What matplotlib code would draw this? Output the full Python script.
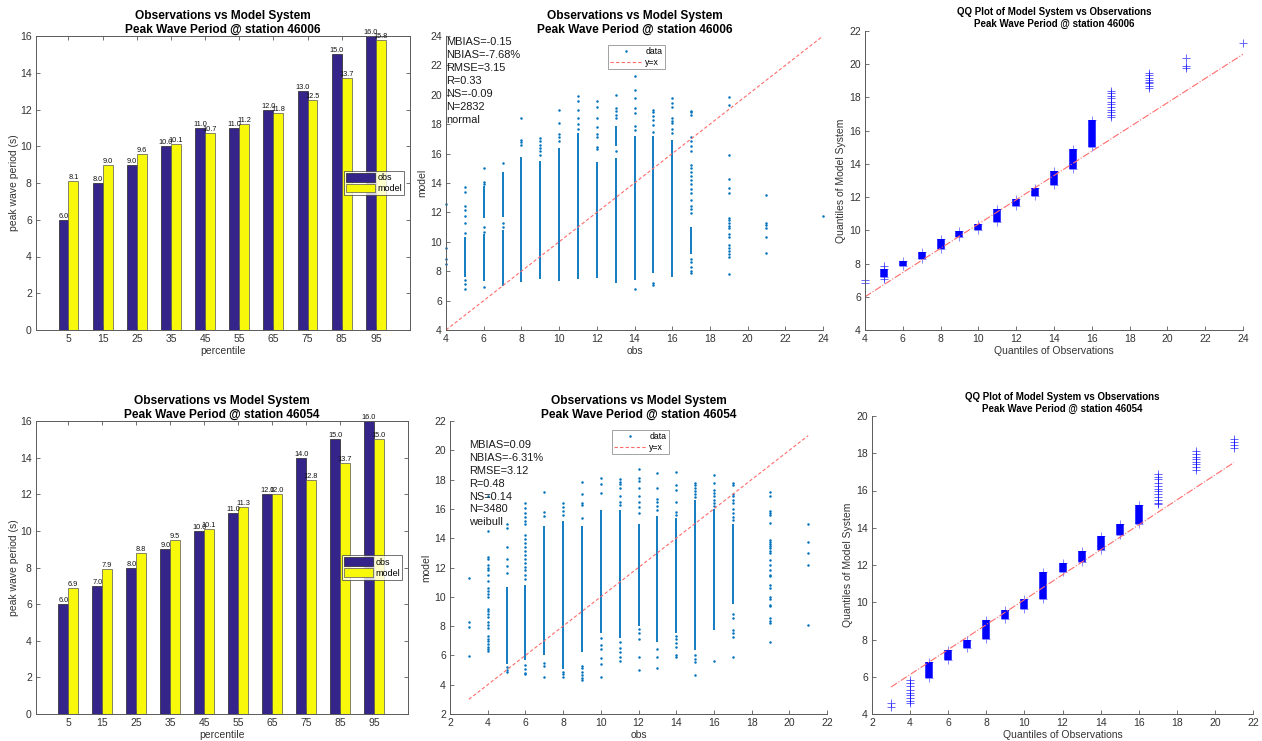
import matplotlib
matplotlib.use("Agg")
import matplotlib.pyplot as plt
import numpy as np
from matplotlib.lines import Line2D
from matplotlib.patches import Patch

plt.rcParams['font.family'] = ['Liberation Sans', 'DejaVu Sans']

W, H = 1262, 741

# ---------------- data ----------------
percentiles = [5, 15, 25, 35, 45, 55, 65, 75, 85, 95]

obs_46006 = [6.0, 8.0, 9.0, 10.0, 11.0, 11.0, 12.0, 13.0, 15.0, 16.0]
model_46006 = [8.1, 9.0, 9.6, 10.1, 10.7, 11.2, 11.8, 12.5, 13.7, 15.8]
obs_46054 = [6.0, 7.0, 8.0, 9.0, 10.0, 11.0, 12.0, 14.0, 15.0, 16.0]
model_46054 = [6.9, 7.9, 8.8, 9.5, 10.1, 11.3, 12.0, 12.8, 13.7, 15.0]

stats_46006 = ["MBIAS=-0.15", "NBIAS=-7.68%", "RMSE=3.15", "R=0.33", "NS=-0.09", "N=2832", "normal"]
stats_46054 = ["MBIAS=0.09", "NBIAS=-6.31%", "RMSE=3.12", "R=0.48", "NS=0.14", "N=3480", "weibull"]

# scatter: obs value -> isolated model values, and runs that look solid
sc_pts_46006 = {
    4: [12.55, 9.6, 8.85, 8.5],
    5: [13.7, 13.4, 12.45, 12.15, 11.75, 11.25, 10.6, 7.4, 7.1, 6.8],
    6: [15.0, 14.1, 13.9, 11.0, 10.7, 6.9],
    7: [15.35, 11.25, 11.0],
    8: [18.45, 16.95, 16.8, 16.6],
    9: [17.05, 16.85, 16.6, 16.4, 16.2, 15.9],
    10: [19.0, 18.1, 17.3, 17.1, 16.85],
    11: [19.9, 19.6, 19.0, 18.4, 18.0, 17.7],
    12: [19.6, 19.2, 18.45, 17.8, 17.3, 17.1, 16.45, 16.3],
    13: [20.0, 19.1, 18.9, 18.6, 18.4, 16.2],
    14: [21.3, 20.35, 19.75, 19.1, 18.75, 17.9, 17.6, 6.8],
    15: [19.0, 18.8, 18.55, 18.3, 17.95, 17.5, 7.2, 7.05],
    16: [19.8, 19.45, 19.15, 18.45, 18.25, 18.05, 17.7, 17.4],
    17: [18.9, 18.8, 18.65, 17.1, 16.85, 16.5, 16.2, 15.25, 15.0, 14.75, 14.5, 14.2, 13.9,
         13.6, 13.3, 12.85, 12.45, 12.2, 11.95, 8.85, 8.6, 8.3, 8.0, 7.85],
    19: [19.85, 19.3, 15.9, 14.3, 13.65, 13.35, 11.6, 11.45, 11.3, 11.1, 10.95, 10.55, 10.35,
         9.8, 9.6, 9.4, 9.2, 8.95, 7.8],
    21: [13.15, 11.3, 11.15, 10.95, 10.3, 9.25],
    24: [11.75],
}
sc_runs_46006 = {
    5: [(7.6, 10.3)],
    6: [(11.6, 13.8), (7.3, 10.5)],
    7: [(11.7, 14.75), (7.0, 10.8)],
    8: [(7.25, 15.8)],
    9: [(7.45, 15.5)],
    10: [(7.35, 16.4)],
    11: [(7.5, 17.4)],
    12: [(7.55, 15.45)],
    13: [(7.2, 15.7), (16.5, 17.9)],
    14: [(7.4, 17.2)],
    15: [(7.85, 17.2)],
    16: [(7.6, 16.9)],
    17: [(9.2, 11.0)],
}

sc_pts_46054 = {
    3: [11.3, 8.25, 7.95, 5.95],
    4: [16.85, 14.5, 12.75, 12.6, 12.2, 12.0, 11.85, 11.5, 11.05, 10.6, 10.4, 10.2, 10.0, 9.2, 9.0,
        8.85, 8.65, 8.3, 8.1, 7.85, 7.3, 7.1, 6.95, 6.8, 6.6, 6.45, 6.3],
    5: [15.0, 14.7, 13.4, 12.55, 12.1, 11.6, 5.2, 5.0, 4.9],
    6: [16.4, 16.05, 15.7, 15.45, 15.2, 14.95, 14.2, 13.95, 13.65, 13.4, 13.1, 12.85, 12.6, 12.3,
        12.05, 11.8, 11.5, 11.2, 5.35, 5.1, 4.8, 4.7],
    7: [17.15, 15.8, 15.5, 5.5, 5.3, 4.55],
    8: [16.4, 16.15, 15.85, 15.6, 4.9, 4.7, 4.55],
    9: [17.85, 17.0, 16.4, 16.3, 15.35, 5.3, 5.15, 4.85, 4.65, 4.45, 4.35],
    10: [18.1, 17.7, 17.1, 7.2, 6.7, 6.45, 5.8, 5.4, 4.5],
    11: [18.05, 17.85, 17.7, 17.4, 16.9, 16.5, 16.3, 6.9, 6.5, 6.2, 5.9, 5.6],
    12: [18.75, 18.1, 17.9, 17.4, 16.85, 16.5, 16.15, 15.7, 7.8, 7.5, 7.15, 5.9, 5.0],
    13: [18.45, 17.4, 16.7, 16.5, 16.2, 15.9, 6.45, 5.9, 5.15],
    14: [18.55, 17.6, 17.3, 16.45, 15.8, 15.6, 7.3, 7.1, 6.85, 6.6, 6.0, 5.9],
    15: [17.75, 17.6, 17.45, 17.2, 17.0, 16.8, 6.0, 5.75, 5.55, 4.65],
    16: [18.3, 17.8, 17.3, 17.1, 16.9, 16.6, 16.4, 16.2, 5.6],
    17: [17.8, 17.65, 17.05, 16.85, 16.6, 16.4, 16.0, 15.7, 15.45, 15.25, 8.8, 8.55, 7.7, 7.5, 7.25, 5.9],
    19: [17.15, 16.85, 15.85, 15.75, 15.6, 15.05, 13.9, 13.75, 13.6, 13.45, 13.3, 13.1, 13.0, 12.5,
         12.2, 11.85, 11.5, 11.4, 10.8, 10.6, 10.0, 9.85, 9.45, 9.35, 8.55, 8.35, 8.2, 6.9],
    21: [14.95, 13.75, 13.0, 12.15, 8.05],
}
sc_runs_46054 = {
    5: [(5.4, 10.7)],
    6: [(5.7, 10.8)],
    7: [(6.0, 14.8)],
    8: [(5.1, 15.2)],
    9: [(6.2, 14.8)],
    10: [(7.5, 15.9)],
    11: [(7.2, 15.9)],
    12: [(8.0, 15.0)],
    13: [(6.9, 15.5)],
    14: [(7.5, 15.4)],
    15: [(6.4, 16.6)],
    16: [(7.7, 16.0)],
    17: [(9.5, 15.0)],
}

# QQ: solid blocks (lo, hi) of model quantiles per obs value, plus single markers
qq_blocks_46006 = {
    5: (7.2, 7.7), 6: (7.85, 8.15), 7: (8.3, 8.7), 8: (8.85, 9.5), 9: (9.6, 9.95),
    10: (10.0, 10.4), 11: (10.5, 11.3), 12: (11.45, 11.9), 13: (12.05, 12.55),
    14: (12.7, 13.6), 15: (13.7, 14.9), 16: (15.0, 16.65),
}
qq_pts_46006 = {
    4: [7.0, 6.85],
    5: [7.05, 7.85],
    17: [18.4, 18.25, 18.1, 17.95, 17.75, 17.6, 17.4, 17.25, 17.1, 16.95, 16.8],
    19: [19.5, 19.35, 19.2, 19.05, 18.95, 18.85, 18.7, 18.55],
    21: [20.4, 19.9, 19.8],
    24: [21.3],
}
qq_line_x_46006 = [4, 24]
qq_line_y_46006 = [6.0, 20.6]

qq_blocks_46054 = {
    5: (5.95, 6.8), 6: (6.9, 7.45), 7: (7.55, 8.0), 8: (8.05, 9.05), 9: (9.1, 9.6),
    10: (9.65, 10.2), 11: (10.2, 11.6), 12: (11.6, 12.1), 13: (12.15, 12.75),
    14: (12.8, 13.55), 15: (13.6, 14.2), 16: (14.2, 15.2),
}
qq_pts_46054 = {
    3: [4.6, 4.4],
    4: [5.85, 5.65, 5.5, 5.3, 5.15, 5.0, 4.85, 4.7, 4.6],
    17: [16.9, 16.75, 16.6, 16.4, 16.25, 16.1, 15.95, 15.8, 15.65, 15.5, 15.35, 15.25],
    19: [18.1, 17.95, 17.8, 17.7, 17.55, 17.4, 17.25, 17.1],
    21: [18.75, 18.6, 18.45, 18.3],
}
qq_line_x_46054 = [3, 21]
qq_line_y_46054 = [5.45, 17.5]

# ---------------- style ----------------
NAVY = '#35248a'
YELLOW = '#f8f80a'
BLUE = '#0072bd'
AXC = '#5a5a5a'
TXT = '#333333'
REDL = '#ff6b6b'


def ax_px(l, t, r, b):
    return fig.add_axes([l / W, 1 - b / H, (r - l) / W, (b - t) / H])


def style(ax, box):
    for s in ax.spines.values():
        s.set_color(AXC)
        s.set_linewidth(0.7)
    if not box:
        ax.spines['top'].set_visible(False)
        ax.spines['right'].set_visible(False)
    ax.tick_params(direction='in', length=3, width=0.6, color=AXC, labelcolor=TXT,
                   labelsize=7.5, top=box, right=box, pad=3)


def bar_panel(ax, obs, model, station):
    x = np.arange(1, len(percentiles) + 1)
    w = 0.29
    ax.bar(x - w / 2, obs, w, color=NAVY, edgecolor='#222222', linewidth=0.5, label='obs')
    ax.bar(x + w / 2, model, w, color=YELLOW, edgecolor='#555555', linewidth=0.5, label='model')
    for xi, o, m in zip(x, obs, model):
        ax.text(xi - w / 2, o, f"{o:.1f}", ha='center', va='bottom', fontsize=5.3, color='#111111')
        ax.text(xi + w / 2, m, f"{m:.1f}", ha='center', va='bottom', fontsize=5.3, color='#111111')
    ax.set_xlim(0.05, 11.0)
    ax.set_ylim(0, 16)
    ax.set_xticks(x)
    ax.set_xticklabels([str(p) for p in percentiles])
    ax.set_yticks(range(0, 17, 2))
    ax.set_xlabel('percentile', fontsize=7.5, color=TXT, labelpad=1)
    ax.set_ylabel('peak wave period (s)', fontsize=7.5, color=TXT, labelpad=1)
    ax.set_title(f"Observations vs Model System\nPeak Wave Period @ station {station}",
                 fontsize=8.6, fontweight='bold', color='black', pad=2, linespacing=1.2)
    style(ax, True)
    handles = [Patch(facecolor=NAVY, edgecolor='#222222', linewidth=0.5),
               Patch(facecolor=YELLOW, edgecolor='#555555', linewidth=0.5)]
    leg = ax.legend(handles, ['obs', 'model'], loc='center right', bbox_to_anchor=(0.985, 0.5),
                    fontsize=6.5, frameon=True, fancybox=False, handlelength=3.2, handleheight=1.1,
                    handletextpad=0.3, borderpad=0.25, labelspacing=0.15, borderaxespad=0)
    leg.get_frame().set_edgecolor('#333333')
    leg.get_frame().set_linewidth(0.6)


def scatter_panel(ax, pts, runs, stats, lims, station, text_xy):
    for ov, vals in pts.items():
        ax.plot([ov] * len(vals), vals, 'o', color=BLUE, ms=1.8, mew=0, ls='none', clip_on=False)
    for ov, segs in runs.items():
        for lo, hi in segs:
            ax.vlines(ov, lo, hi, color=BLUE, lw=1.3)
    xs = sorted(pts.keys())
    ax.plot([xs[0], xs[-1]], [xs[0], xs[-1]], ls=(0, (3, 2)), color=REDL, lw=0.8)
    ax.set_xlim(*lims)
    ax.set_ylim(*lims)
    ax.set_xticks(range(lims[0], lims[1] + 1, 2))
    ax.set_yticks(range(lims[0], lims[1] + 1, 2))
    ax.set_xlabel('obs', fontsize=7.5, color=TXT, labelpad=1)
    ax.set_ylabel('model', fontsize=7.5, color=TXT, labelpad=2)
    ax.set_title(f"Observations vs Model System\nPeak Wave Period @ station {station}",
                 fontsize=8.6, fontweight='bold', color='black', pad=2, linespacing=1.2)
    style(ax, False)
    ax.text(text_xy[0], text_xy[1], "\n".join(stats), transform=ax.transAxes, ha='left', va='top',
            fontsize=7.9, color='#1a1a1a', linespacing=1.36)
    handles = [Line2D([], [], marker='o', ms=1.8, mew=0, color=BLUE, ls='none'),
               Line2D([], [], ls=(0, (3, 2)), color=REDL, lw=0.8)]
    leg = ax.legend(handles, ['data', 'y=x'], loc='upper center', bbox_to_anchor=(0.505, 0.97),
                    fontsize=6.3, frameon=True, fancybox=False, handlelength=3.6,
                    handletextpad=0.4, borderpad=0.3, labelspacing=0.15, borderaxespad=0)
    leg.get_frame().set_edgecolor('#777777')
    leg.get_frame().set_linewidth(0.6)


def qq_panel(ax, blocks, pts, lx, ly, xlim, ylim, station):
    for ov, (lo, hi) in blocks.items():
        ax.vlines(ov, lo, hi, color='#0000ff', lw=5.4)
        ax.plot([ov, ov], [lo, hi], '+', color='#0000ff', ms=5.5, mew=0.6, alpha=0.55)
    for ov, vals in pts.items():
        ax.plot([ov] * len(vals), vals, '+', color='#0000ff', ms=5.5, mew=0.7, alpha=0.6,
                ls='none', clip_on=False)
    ax.plot(lx, ly, ls='-.', color=REDL, lw=0.8)
    ax.set_xlim(*xlim)
    ax.set_ylim(*ylim)
    ax.set_xticks(range(xlim[0], xlim[1] + 1, 2))
    ax.set_yticks(range(ylim[0], ylim[1] + 1, 2))
    ax.set_xlabel('Quantiles of Observations', fontsize=7.5, color=TXT, labelpad=1)
    ax.set_ylabel('Quantiles of Model System', fontsize=7.5, color=TXT, labelpad=2)
    ax.set_title(f"QQ Plot of Model System vs Observations\nPeak Wave Period @ station {station}",
                 fontsize=7, fontweight='bold', color='black', pad=3, linespacing=1.2)
    style(ax, False)


fig = plt.figure(figsize=(W / 100, H / 100), dpi=100)

bar_panel(ax_px(36, 36, 410, 330), obs_46006, model_46006, '46006')
scatter_panel(ax_px(446, 36, 823, 330), sc_pts_46006, sc_runs_46006, stats_46006,
              (4, 24), '46006', (0.0, 0.995))
qq_panel(ax_px(865, 31, 1243, 330), qq_blocks_46006, qq_pts_46006,
         qq_line_x_46006, qq_line_y_46006, (4, 24), (4, 22), '46006')

bar_panel(ax_px(36, 421, 408, 714), obs_46054, model_46054, '46054')
scatter_panel(ax_px(450, 421, 827, 714), sc_pts_46054, sc_runs_46054, stats_46054,
              (2, 22), '46054', (0.05, 0.935))
qq_panel(ax_px(872, 416, 1253, 714), qq_blocks_46054, qq_pts_46054,
         qq_line_x_46054, qq_line_y_46054, (2, 22), (4, 20), '46054')

fig.savefig('out.png', dpi=100)
